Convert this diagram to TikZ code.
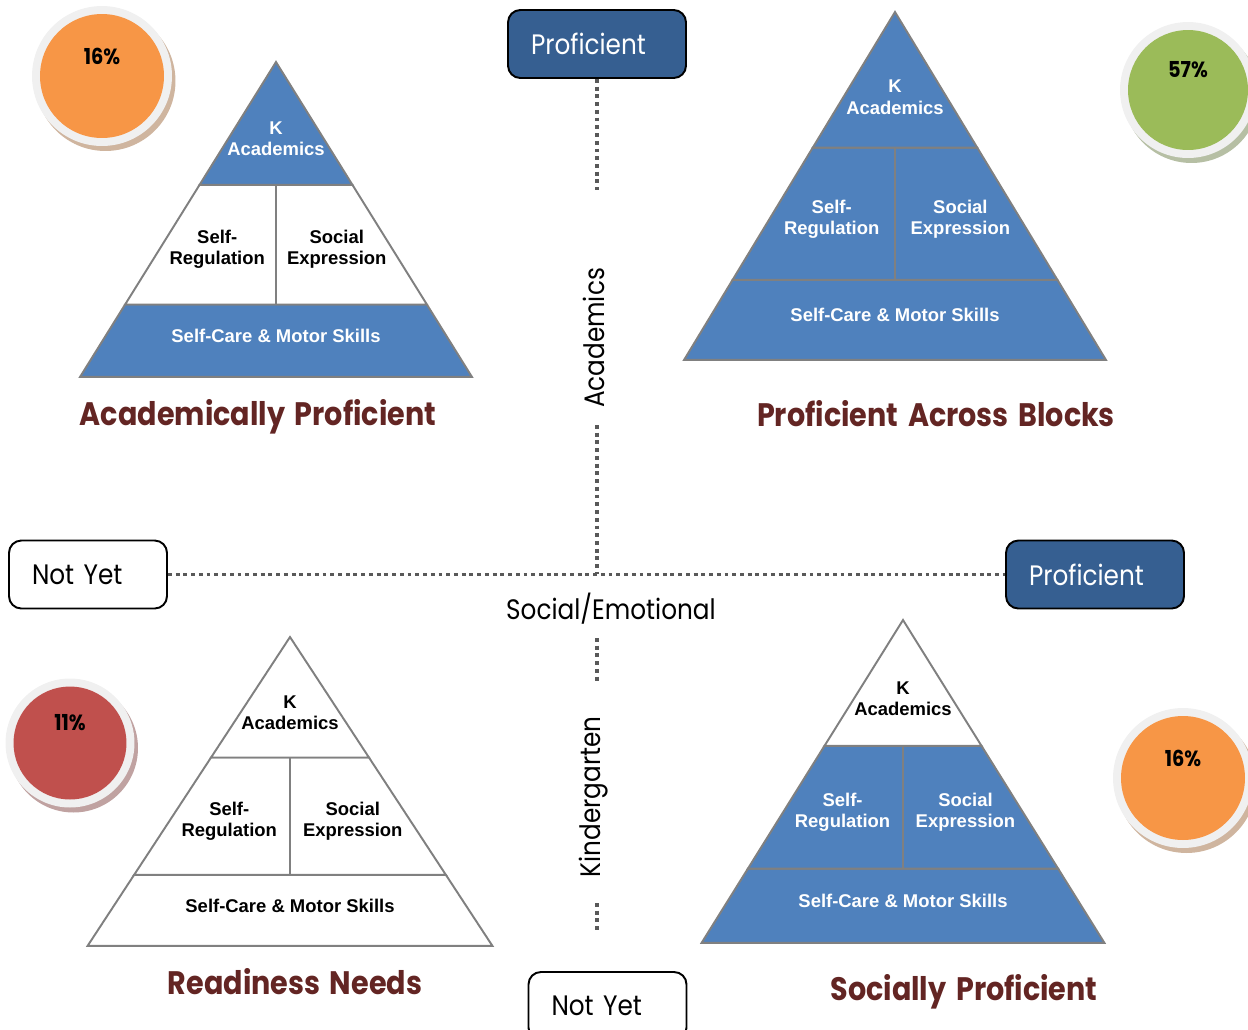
\documentclass[tikz,border=0pt]{standalone}
\usepackage{fontspec}
\setmainfont{Liberation Sans}
\newfontfamily\geofont[FakeStretch=0.88, WordSpace=1.6]{Poppins}
\usetikzlibrary{positioning}

\definecolor{pyrblue}{HTML}{4F81BD}
\definecolor{boxblue}{HTML}{365F91}
\definecolor{titlered}{HTML}{632523}
\definecolor{tiergray}{HTML}{808080}
\definecolor{axisgray}{HTML}{595959}
\definecolor{pctorange}{HTML}{F79646}
\definecolor{pctgreen}{HTML}{9BBB59}
\definecolor{pctred}{HTML}{C0504D}

\tikzset{
  axisbox/.style={draw=black, line width=1.1pt, rounded corners=7pt, align=left,
    inner xsep=0.46cm, minimum height=1.36cm, font=\geofont\fontsize{16}{18}\selectfont},
  profbox/.style={axisbox, fill=boxblue, text=white, text width=2.64cm},
  notyetbox/.style={axisbox, fill=white, text width=2.24cm},
  axisline/.style={line width=2.2pt, dash pattern=on 2.2pt off 2.2pt, color=axisgray},
  axislabel/.style={font=\geofont\fontsize{16}{18}\selectfont, inner sep=2pt},
  blocktitle/.style={font=\geofont\bfseries\fontsize{18.5}{22}\selectfont, text=titlered},
  tieredge/.style={draw=tiergray, line width=1.1pt},
  tierfill-blue/.style={tieredge, fill=pyrblue},
  tierfill-white/.style={tieredge, fill=white},
  tiertext-blue/.style={text=white},
  tiertext-white/.style={text=black},
  tierlabel/.style={font=\bfseries\fontsize{10.5}{12}\selectfont, align=center, inner sep=1pt},
  pcttext/.style={font=\geofont\bfseries\fontsize{12.5}{15}\selectfont},
}

% name, apex x, apex y, half width, height, top / middle / base tier
\newcommand{\kpyramid}[8]{%
  \begin{scope}[shift={(#2,#3)}, x=#4, y=-#5]
    \filldraw[tierfill-#8] (-1,1) -- (1,1) -- (0.77,0.77) -- (-0.77,0.77) -- cycle;
    \filldraw[tierfill-#7] (-0.77,0.77) -- (0.77,0.77) -- (0.39,0.39) -- (-0.39,0.39) -- cycle;
    \filldraw[tierfill-#6] (-0.39,0.39) -- (0.39,0.39) -- (0,0) -- cycle;
    \draw[tieredge] (0,0.39) -- (0,0.77);
    \node[tierlabel, tiertext-#6] (#1-top) at (0,0.245) {K\\Academics};
    \node[tierlabel, tiertext-#7] (#1-self) at (-0.30,0.595) {Self-\\Regulation};
    \node[tierlabel, tiertext-#7] (#1-social) at (0.31,0.595) {Social\\Expression};
    \node[tierlabel, tiertext-#8] (#1-base) at (0,0.87) {Self-Care \& Motor Skills};
  \end{scope}
}

% name, x, y, radius, ring radius, colour, value
\newcommand{\pctdisc}[7]{%
  \coordinate (#1) at (#2,#3);
  \fill[#6!60!black!45!white] ([xshift=0.07cm,yshift=-0.1cm]#1) circle[radius=#5];
  \fill[black!6] (#1) circle[radius=#5];
  \fill[#6] (#1) circle[radius=#4];
  \node[pcttext] (#1-val) at ([yshift=0.4cm]#1) {#7};
}

\begin{document}
\begin{tikzpicture}[x=0.02cm, y=-0.02cm]
  \useasboundingbox (0,0) rectangle (1248,1029);

  % axes
  \node[profbox] (prof-acad) at (597,44) {Proficient};
  \node[profbox] (prof-soc) at (1095,574.5) {Proficient};
  \node[notyetbox] (notyet-soc) at (88,574.5) {Not Yet};
  \node[notyetbox] (notyet-acad) at (607.5,1006) {Not Yet};

  \node[axislabel, rotate=90] (acad) at (594,338) {Academics};
  \node[axislabel, rotate=90] (kinder) at (594,797) {Kindergarten};
  \node[axislabel] (socemo) at (611,609) {Social/Emotional};

  \coordinate (origin) at (597,574);
  \coordinate (acad-a) at (597,190);
  \coordinate (acad-b) at (597,425);
  \coordinate (kin-a) at (597,638);
  \coordinate (kin-b) at (597,681);
  \coordinate (kin-c) at (597,903);
  \coordinate (kin-d) at (597,930);

  \draw[axisline] (prof-acad.south) -- (acad-a);
  \draw[axisline] (acad-b) -- (origin);
  \draw[axisline] (notyet-soc.east) -- (prof-soc.west);
  \draw[axisline] (kin-a) -- (kin-b);
  \draw[axisline] (kin-c) -- (kin-d);

  % pyramids
  \kpyramid{pa}{276}{62}{3.92cm}{6.30cm}{blue}{white}{blue}
  \kpyramid{pb}{895}{12}{4.22cm}{6.96cm}{blue}{blue}{blue}
  \kpyramid{pc}{290}{637}{4.05cm}{6.18cm}{white}{white}{white}
  \kpyramid{pd}{903}{620}{4.03cm}{6.46cm}{white}{blue}{blue}

  \node[blocktitle] (title-a) at (258,417) {Academically Proficient};
  \node[blocktitle] (title-b) at (936,414) {Proficient Across Blocks};
  \node[blocktitle] (title-c) at (295,982) {Readiness Needs};
  \node[blocktitle] (title-d) at (964,992) {Socially Proficient};

  % shares
  \pctdisc{share-a}{102}{76}{1.24cm}{1.40cm}{pctorange}{16\%}
  \pctdisc{share-b}{1188}{90}{1.20cm}{1.36cm}{pctgreen}{57\%}
  \pctdisc{share-c}{70}{743}{1.13cm}{1.29cm}{pctred}{11\%}
  \pctdisc{share-d}{1183}{778}{1.24cm}{1.40cm}{pctorange}{16\%}
\end{tikzpicture}
\end{document}
